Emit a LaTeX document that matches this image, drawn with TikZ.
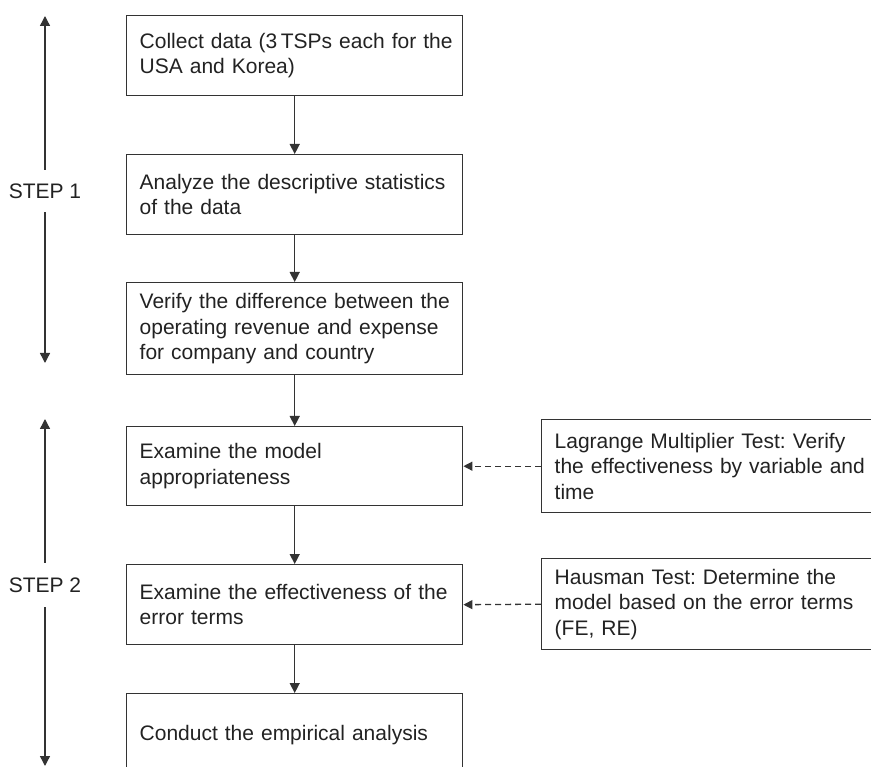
\documentclass[tikz,border=0pt]{standalone}
\usepackage{fontspec}
\setmainfont{Liberation Sans}
\usetikzlibrary{arrows.meta}
\frenchspacing
\definecolor{ink}{HTML}{222222}
\definecolor{edge}{HTML}{333333}
\tikzset{
  box/.style={draw=edge, line width=1.4pt, rectangle, anchor=north west,
    text width=310pt, align=left, inner xsep=13pt, inner ysep=0pt,
    minimum width=336pt, text=ink,
    font=\fontsize{21}{25.5}\selectfont},
  steplabel/.style={inner sep=0pt, minimum height=42pt, text=ink,
    font=\fontsize{21}{25.5}\selectfont},
  arr/.style={draw=edge, line width=1.4pt, -{Triangle[length=10pt,width=10pt]}},
  darr/.style={draw=edge, line width=1.3pt, dash pattern=on 6pt off 4pt,
    -{Triangle[length=9pt,width=9pt]}}
}
\begin{document}
\begin{tikzpicture}[x=1pt,y=-1pt]
\useasboundingbox (0,0) rectangle (871,767);
\clip (0,0) rectangle (871,767);
% main column
\node[box, minimum height=80pt] (b1) at (126,15) {\mbox{Collect data (3\,TSPs each for the}\\\mbox{USA and Korea)}};
\node[box, minimum height=80pt] (b2) at (126,154) {\mbox{Analyze the descriptive statistics}\\\mbox{of the data}};
\node[box, minimum height=92pt] (b3) at (126,282) {\mbox{Verify the difference between the}\\\mbox{operating revenue and expense}\\\mbox{for company and country}};
\node[box, minimum height=79pt] (b4) at (126,426) {\mbox{Examine the model}\\\mbox{appropriateness}};
\node[box, minimum height=80pt] (b5) at (126,564) {\mbox{Examine the effectiveness of the}\\\mbox{error terms}};
\node[box, minimum height=82pt] (b6) at (126,693) {\mbox{Conduct the empirical analysis}};
% side boxes
\node[box, minimum height=93pt] (lm) at (541,419) {\mbox{Lagrange Multiplier Test: Verify}\\\mbox{the effectiveness by variable and}\\\mbox{time}};
\node[box, minimum height=91pt] (hm) at (541,558) {\mbox{Hausman Test: Determine the}\\\mbox{model based on the error terms}\\\mbox{(FE, RE)}};
% flow arrows
\draw[arr] (b1.south) -- (b2.north);
\draw[arr] (b2.south) -- (b3.north);
\draw[arr] (b3.south) -- (b4.north);
\draw[arr] (b4.south) -- (b5.north);
\draw[arr] (b5.south) -- (b6.north);
\draw[darr] (lm.west) -- (b4.east);
\draw[darr] (hm.west) -- (b5.east);
% step indicators
\node[steplabel] (st1) at (45,191) {STEP 1};
\coordinate (s1top) at (45,16);
\coordinate (s1bot) at (45,363);
\draw[arr] (st1.north) -- (s1top);
\draw[arr] (st1.south) -- (s1bot);
\node[steplabel, minimum height=44pt] (st2) at (45,585) {STEP 2};
\coordinate (s2top) at (45,419);
\coordinate (s2bot) at (45,766);
\draw[arr] (st2.north) -- (s2top);
\draw[arr] (st2.south) -- (s2bot);
\end{tikzpicture}
\end{document}
